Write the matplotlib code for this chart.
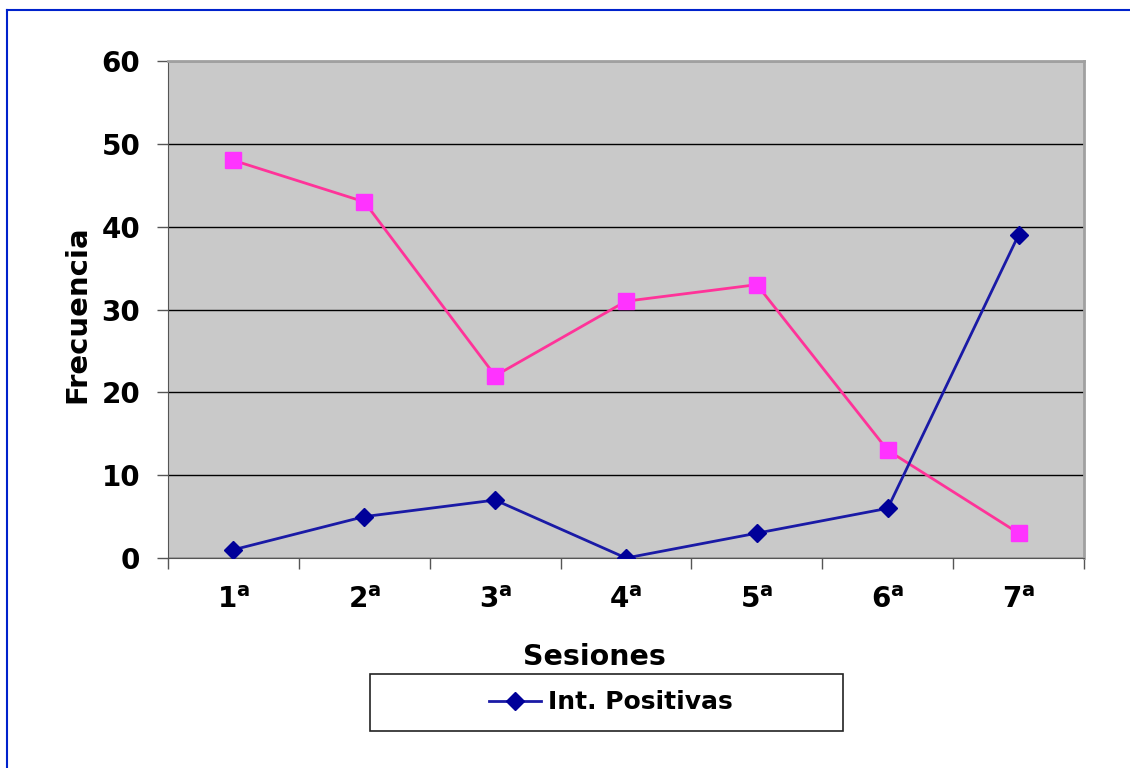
import numpy as np
import matplotlib
matplotlib.use("Agg")
import matplotlib.pyplot as plt
from matplotlib.lines import Line2D
from matplotlib.patches import Rectangle

# data
sesiones = ["1ª", "2ª", "3ª", "4ª", "5ª", "6ª", "7ª"]
int_positivas = [1, 5, 7, 0, 3, 6, 39]
int_negativas = [48, 43, 22, 31, 33, 13, 3]

BLUE = "#000099"
BLUE_LINE = "#1a1aa6"
PINK_LINE = "#ff3399"
PINK_MARK = "#ff33ff"

fig = plt.figure(figsize=(11.3, 7.68), dpi=100)
ax = fig.add_axes([0.1487, 0.2734, 0.9593 - 0.1487, 0.9206 - 0.2734])
ax.set_facecolor("#c9c9c9")

x = np.arange(len(sesiones))
ax.plot(x, int_negativas, color=PINK_LINE, lw=2, marker="s", ms=11,
        mfc=PINK_MARK, mec=PINK_MARK, zorder=3)
ax.plot(x, int_positivas, color=BLUE_LINE, lw=2, marker="D", ms=9.5,
        mfc=BLUE, mec=BLUE, zorder=4, label="Int. Positivas")

ax.set_xlim(-0.5, len(sesiones) - 0.5)
ax.set_ylim(0, 60)
ax.set_yticks(np.arange(0, 61, 10))
ax.set_xticks(x)
# the ordinal sign drawn as a raised bold "a" (DejaVu's ª is underlined)
ax.set_xticklabels([s.replace("ª", r"$^{\mathbf{a}}$") for s in sesiones])
ax.set_xticks(np.arange(-0.5, len(sesiones)), minor=True)
ax.tick_params(axis="x", which="major", length=0, pad=20, labelsize=20)
ax.tick_params(axis="x", which="minor", length=8, width=1, color="#555555")
ax.tick_params(axis="y", length=8, width=1, color="#555555", pad=12, labelsize=20)
for lab in ax.get_xticklabels() + ax.get_yticklabels():
    lab.set_fontweight("bold")

ax.yaxis.grid(True, color="black", lw=1)
ax.set_axisbelow(True)
for s in ["top", "right"]:
    ax.spines[s].set_color("#a0a0a0")
    ax.spines[s].set_linewidth(2)
ax.spines["left"].set_color("#555555")
ax.spines["bottom"].set_color("#555555")

ax.set_xlabel("Sesiones", fontsize=20.5, fontweight="bold")
ax.xaxis.set_label_coords(0.465, -0.17)
ax.set_ylabel("Frecuencia", fontsize=21, fontweight="bold")
ax.yaxis.set_label_coords(-0.084, 0.49)

# legend box like the original (only the blue series is listed)
fig.add_artist(Rectangle((370 / 1130, 1 - 731 / 768), 473 / 1130, 57 / 768,
                         transform=fig.transFigure, fill=False,
                         ec="#222222", lw=1.2))
fig.legend(loc="center", bbox_to_anchor=(0.5403, 0.0853), frameon=False,
           prop={"size": 18, "weight": "bold"}, handlelength=2.1,
           handletextpad=0.25)

# blue outline of the original chart frame
fig.add_artist(Line2D([6.5 / 1130, 6.5 / 1130], [0, 1 - 10 / 768],
                      transform=fig.transFigure, color="#0022cc", lw=1.5))
fig.add_artist(Line2D([6.5 / 1130, 1], [1 - 10 / 768, 1 - 10 / 768],
                      transform=fig.transFigure, color="#0022cc", lw=1.5))

fig.savefig("out.png", dpi=100)
